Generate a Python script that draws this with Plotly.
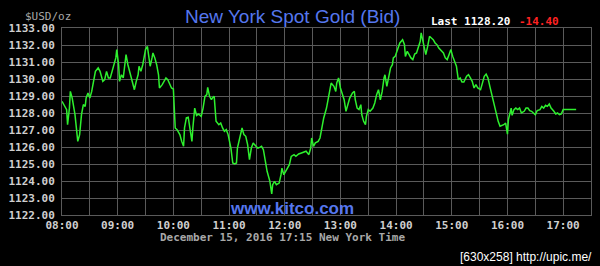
import plotly.graph_objects as go

DATE = "2016-12-15"

times = [
    "08:00", "08:03", "08:05", "08:06", "08:08", "08:09", "08:11", "08:14", "08:16", "08:17",
    "08:19", "08:21", "08:23", "08:25", "08:26", "08:28", "08:30", "08:32", "08:34", "08:36",
    "08:39", "08:41", "08:44", "08:46", "08:48", "08:50", "08:52", "08:54", "08:56", "08:58",
    "08:59", "09:01", "09:02", "09:04", "09:06", "09:07", "09:09", "09:11", "09:13", "09:16",
    "09:18", "09:20", "09:22", "09:23", "09:25", "09:27", "09:29", "09:30", "09:32", "09:33",
    "09:35", "09:37", "09:38", "09:40", "09:42", "09:44", "09:45", "09:48", "09:50", "09:52",
    "09:54", "09:56", "09:58", "10:00", "10:01", "10:02", "10:04", "10:07", "10:09", "10:11",
    "10:12", "10:14", "10:16", "10:18", "10:20", "10:21", "10:23", "10:25", "10:27", "10:30",
    "10:32", "10:34", "10:36", "10:37", "10:39", "10:41", "10:42", "10:44", "10:45", "10:46",
    "10:49", "10:51", "10:53", "10:55", "10:57", "10:59", "11:02", "11:04", "11:06", "11:08",
    "11:09", "11:12", "11:14", "11:16", "11:18", "11:20", "11:22", "11:24", "11:26", "11:29",
    "11:31", "11:33", "11:35", "11:37", "11:39", "11:41", "11:44", "11:46", "11:47", "11:49",
    "11:51", "11:54", "11:56", "11:57", "11:59", "12:01", "12:03", "12:05", "12:07", "12:10",
    "12:12", "12:15", "12:18", "12:21", "12:23", "12:26", "12:28", "12:29", "12:31", "12:33",
    "12:36", "12:38", "12:40", "12:42", "12:45", "12:46", "12:48", "12:50", "12:53", "12:55",
    "12:56", "12:58", "13:00", "13:02", "13:04", "13:06", "13:08", "13:10", "13:13", "13:15",
    "13:16", "13:18", "13:20", "13:22", "13:23", "13:25", "13:27", "13:28", "13:30", "13:32",
    "13:35", "13:37", "13:39", "13:41", "13:43", "13:45", "13:47", "13:48", "13:50", "13:52",
    "13:54", "13:56", "13:57", "13:59", "14:02", "14:04", "14:07", "14:09", "14:10", "14:12",
    "14:14", "14:16", "14:18", "14:20", "14:22", "14:24", "14:26", "14:27", "14:29", "14:30",
    "14:32", "14:34", "14:36", "14:38", "14:40", "14:42", "14:44", "14:46", "14:49", "14:51",
    "14:53", "14:55", "14:57", "14:59", "15:01", "15:03", "15:05", "15:07", "15:09", "15:11",
    "15:13", "15:16", "15:18", "15:20", "15:22", "15:24", "15:26", "15:28", "15:31", "15:33",
    "15:35", "15:37", "15:39", "15:41", "15:43", "15:46", "15:48", "15:50", "15:52", "15:54",
    "15:56", "15:58", "15:59", "16:00", "16:01", "16:03", "16:04", "16:05", "16:07", "16:09",
    "16:11", "16:13", "16:15", "16:18", "16:20", "16:22", "16:24", "16:26", "16:28", "16:30",
    "16:32", "16:35", "16:37", "16:39", "16:41", "16:43", "16:45", "16:47", "16:50", "16:52",
    "16:54", "16:56", "16:58", "17:00", "17:02", "17:08", "17:14",
]

prices = [
    1128.69, 1128.39, 1128.20, 1127.31, 1128.29, 1129.27, 1128.88, 1127.90, 1126.73, 1126.33,
    1126.73, 1127.90, 1128.49, 1128.39, 1128.88, 1129.18, 1128.88, 1129.27, 1129.86, 1130.45,
    1130.65, 1130.45, 1129.86, 1129.96, 1130.45, 1130.06, 1130.06, 1130.45, 1130.84, 1131.24,
    1131.73, 1130.84, 1129.86, 1130.25, 1130.06, 1130.65, 1131.43, 1130.84, 1130.45, 1129.86,
    1129.37, 1129.86, 1130.25, 1130.75, 1130.45, 1130.84, 1131.43, 1131.73, 1131.92, 1131.43,
    1130.75, 1131.24, 1131.53, 1131.24, 1130.84, 1130.25, 1129.47, 1129.67, 1129.86, 1130.06,
    1129.96, 1129.67, 1129.47, 1129.41, 1128.49, 1127.12, 1127.02, 1126.73, 1126.33, 1126.04,
    1127.12, 1127.71, 1127.75, 1127.12, 1126.33, 1127.12, 1128.29, 1127.86, 1127.94, 1127.80,
    1128.29, 1128.98, 1129.08, 1129.51, 1128.98, 1128.78, 1128.88, 1128.98, 1128.20, 1127.51,
    1127.31, 1127.41, 1127.12, 1126.92, 1127.02, 1126.73, 1125.94, 1125.06, 1125.00, 1125.06,
    1125.94, 1126.73, 1127.12, 1126.73, 1126.63, 1126.14, 1125.25, 1125.94, 1126.24, 1126.04,
    1125.94, 1125.98, 1126.04, 1125.84, 1125.16, 1124.57, 1123.98, 1123.24, 1123.78, 1123.98,
    1123.78, 1123.88, 1124.37, 1124.76, 1124.37, 1124.57, 1124.76, 1124.96, 1125.45, 1125.55,
    1125.45, 1125.59, 1125.65, 1125.71, 1125.75, 1125.55, 1125.94, 1126.53, 1126.04, 1126.24,
    1126.33, 1126.53, 1127.12, 1127.71, 1128.29, 1128.59, 1129.27, 1129.76, 1129.57, 1129.27,
    1129.76, 1130.06, 1129.47, 1129.08, 1128.78, 1128.10, 1128.49, 1128.88, 1129.18, 1129.27,
    1128.78, 1128.29, 1128.20, 1128.49, 1127.90, 1127.51, 1127.31, 1127.80, 1128.20, 1128.10,
    1128.29, 1128.59, 1129.08, 1129.37, 1128.78, 1129.27, 1130.06, 1130.25, 1129.57, 1130.06,
    1130.65, 1130.84, 1131.24, 1131.33, 1131.82, 1132.12, 1132.31, 1132.02, 1131.33, 1131.63,
    1131.43, 1131.24, 1131.14, 1131.47, 1131.53, 1131.82, 1132.22, 1132.71, 1132.12, 1131.82,
    1131.43, 1131.92, 1132.51, 1132.41, 1132.31, 1132.12, 1132.02, 1131.82, 1131.63, 1131.53,
    1131.24, 1131.14, 1131.43, 1131.73, 1131.33, 1131.04, 1130.75, 1129.96, 1130.06, 1129.82,
    1129.82, 1130.16, 1130.25, 1130.06, 1129.86, 1129.47, 1129.67, 1129.47, 1129.37, 1129.76,
    1130.16, 1130.29, 1130.06, 1129.57, 1129.08, 1128.49, 1127.90, 1127.51, 1127.22, 1127.27,
    1127.31, 1127.41, 1127.12, 1126.76, 1127.61, 1128.20, 1128.29, 1127.86, 1128.20, 1128.29,
    1128.20, 1128.29, 1128.00, 1128.10, 1128.29, 1128.29, 1128.14, 1128.10, 1128.00, 1127.90,
    1128.14, 1128.20, 1128.39, 1128.29, 1128.45, 1128.39, 1128.53, 1128.29, 1128.10, 1127.94,
    1128.00, 1127.90, 1127.94, 1128.20, 1128.20, 1128.20, 1128.20,
]

title_text = "New York Spot Gold (Bid)"
unit_text = "$USD/oz"
last_text = "Last 1128.20"
change_text = "-14.40"
site_text = "www.kitco.com"
date_text = "December 15, 2016 17:15 New York Time"
watermark_text = "[630x258] http://upic.me/"

x = [f"{DATE} {t}" for t in times]

GRID = "#5a5a5a"
MONO = "DejaVu Sans Mono"
BLUE = "#5577ee"

fig = go.Figure()
fig.add_trace(go.Scatter(
    x=x, y=prices, mode="lines",
    line=dict(color="#2ef02e", width=1.5),
    hoverinfo="skip", showlegend=False,
))

fig.update_layout(
    width=600, height=266,
    margin=dict(l=58, r=8, t=28, b=51),
    paper_bgcolor="#000000", plot_bgcolor="#000000",
    showlegend=False,
    xaxis=dict(
        type="date",
        range=[f"{DATE} 08:00", f"{DATE} 17:30"],
        tick0=f"{DATE} 08:00", dtick=3600000,
        tickformat="%H:%M",
        showgrid=True, gridcolor=GRID, gridwidth=1,
        minor=dict(dtick=1800000, showgrid=True, gridcolor=GRID, gridwidth=1),
        showline=True, linecolor=GRID, linewidth=1, mirror=True,
        zeroline=False, ticks="",
        tickfont=dict(family=MONO, size=11, color="#cfcfcf", weight="bold"),
    ),
    yaxis=dict(
        range=[1122, 1133],
        tick0=1122, dtick=1,
        tickformat=".2f",
        showgrid=True, gridcolor=GRID, gridwidth=1,
        showline=True, linecolor=GRID, linewidth=1, mirror=True,
        zeroline=False, ticks="outside", ticklen=4, tickcolor="#000000",
        tickfont=dict(family=MONO, size=11, color="#cfcfcf", weight="bold"),
    ),
)

ann = [
    dict(text=unit_text, x=-0.073, y=1.064, xanchor="left", yanchor="middle",
         font=dict(family=MONO, size=11, color="#a8a8a8")),
    dict(text=title_text, x=0.436, y=1.064, xanchor="center", yanchor="middle",
         font=dict(family="Liberation Sans", size=19, color=BLUE)),
    dict(text=last_text, x=0.693, y=1.037, xanchor="left", yanchor="middle",
         font=dict(family=MONO, size=11, color="#ffffff", weight="bold")),
    dict(text=change_text, x=0.8596, y=1.037, xanchor="left", yanchor="middle",
         font=dict(family=MONO, size=11, color="#ff2222", weight="bold")),
    dict(text=site_text, x=0.4354, y=0.037, xanchor="center", yanchor="middle",
         font=dict(family="Liberation Sans", size=17, color=BLUE, weight="bold")),
    dict(text=date_text, x=0.4176, y=-0.118, xanchor="center", yanchor="middle",
         font=dict(family=MONO, size=11, color="#a8a8a8", weight="bold")),
    dict(text=watermark_text, x=1.0056, y=-0.2246, xanchor="right", yanchor="middle",
         font=dict(family="Liberation Sans", size=12, color="#ffffff")),
]
for a in ann:
    a.update(xref="paper", yref="paper", showarrow=False)
    fig.add_annotation(**a)

fig.write_html("out.html")
